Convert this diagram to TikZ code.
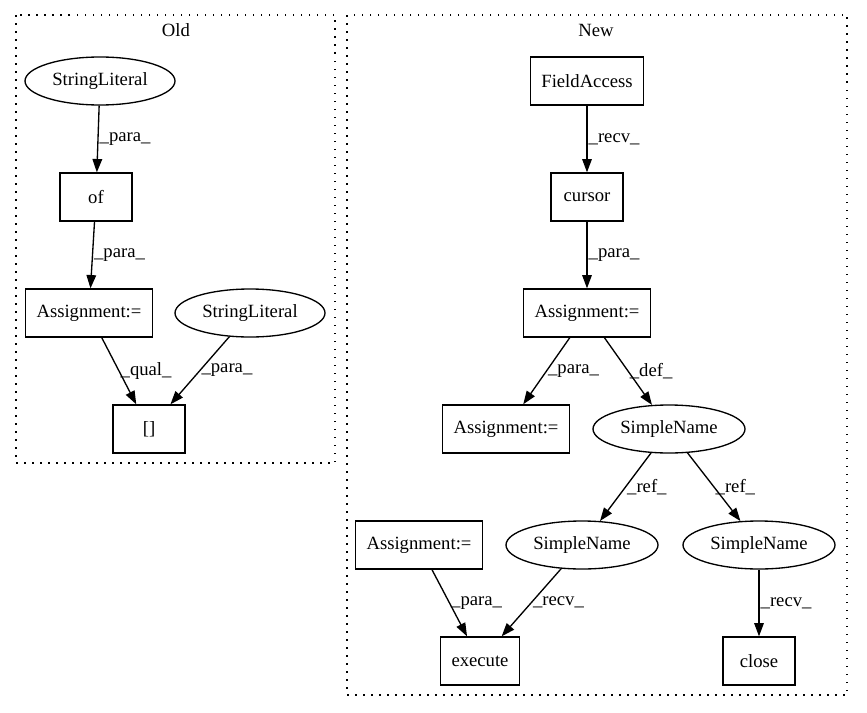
\documentclass[tikz,border=0pt]{standalone}
\usepackage{fontspec}
\setmainfont{Liberation Serif}
\usetikzlibrary{shapes}
\usetikzlibrary{arrows.meta}

\begin{document}
\begin{tikzpicture}[x=1pt,y=-1pt]
	 \tikzstyle{every node}=[font=\fontsize{18.67}{22}\selectfont]
	 \tikzstyle{box}=[draw,line width=1.33pt,rectangle,minimum width=72,minimum height=48,inner xsep=11,inner ysep=0]
	 \tikzstyle{oval}=[draw,line width=1.33pt,ellipse,minimum width=152,minimum height=48,inner sep=0]
	 \tikzstyle{edge}=[line width=1.33pt,-{Triangle[length=13.3pt,width=9.6pt]},black]
	 \tikzstyle{lbl}=[midway,anchor=west,inner sep=1]
	 \tikzstyle{cluster}=[line width=1.33pt,dash pattern=on 1.5pt off 6.5pt]

	 \useasboundingbox (0,0) rectangle (867,712);

	 % Old
	 \draw[cluster] (16,15) rectangle (335,463);
	 \node (old) at (176,30) {Old};
	 \node[oval,minimum width=150] (s1) at (100,81) {StringLiteral};
	 \node[box] (of) at (96,197) {of};
	 \node[box] (a1) at (89,313) {Assignment:=};
	 \node[oval,minimum width=150] (s2) at (250,313) {StringLiteral};
	 \node[box] (idx) at (149,429) {[]};
	\draw[edge] (s1) -- (of) node[lbl] {\_para\_};
	\draw[edge] (of) -- (a1) node[lbl] {\_para\_};
	\draw[edge] (a1) -- (idx) node[lbl] {\_qual\_};
	\draw[edge] (s2) -- (idx) node[lbl] {\_para\_};

	 % New
	 \draw[cluster] (347,15) rectangle (847,695);
	 \node (new) at (596,30) {New};
	 \node[box] (fa) at (587,81) {FieldAccess};
	 \node[box] (cur) at (587,197) {cursor};
	 \node[box] (a2) at (587,313) {Assignment:=};
	 \node[box] (a3) at (506,429) {Assignment:=};
	 \node[oval] (n1) at (669,429) {SimpleName};
	 \node[box] (a4) at (419,545) {Assignment:=};
	 \node[oval] (n2) at (582,545) {SimpleName};
	 \node[oval] (n3) at (759,545) {SimpleName};
	 \node[box] (ex) at (480,661) {execute};
	 \node[box] (cl) at (759,661) {close};
	\draw[edge] (fa) -- (cur) node[lbl] {\_recv\_};
	\draw[edge] (cur) -- (a2) node[lbl] {\_para\_};
	\draw[edge] (a2) -- (a3) node[lbl] {\_para\_};
	\draw[edge] (a2) -- (n1) node[lbl] {\_def\_};
	\draw[edge] (n1) -- (n2) node[lbl] {\_ref\_};
	\draw[edge] (n1) -- (n3) node[lbl] {\_ref\_};
	\draw[edge] (a4) -- (ex) node[lbl] {\_para\_};
	\draw[edge] (n2) -- (ex) node[lbl] {\_recv\_};
	\draw[edge] (n3) -- (cl) node[lbl] {\_recv\_};
\end{tikzpicture}
\end{document}
